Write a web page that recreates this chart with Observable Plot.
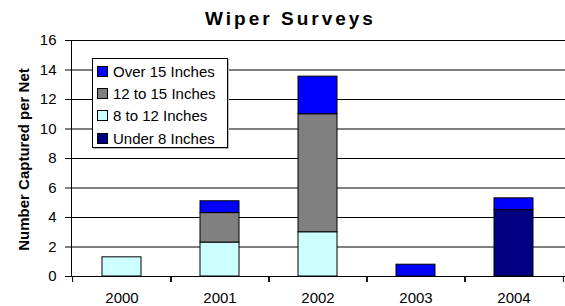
<!DOCTYPE html>
<html>
<head>
<meta charset="utf-8">
<script src="https://cdn.jsdelivr.net/npm/d3@7"></script>
<script src="https://cdn.jsdelivr.net/npm/@observablehq/plot@0.6"></script>
<style>
  html, body { margin: 0; padding: 0; background: #fff; }
  body { width: 565px; height: 306px; overflow: hidden; font-family: "Liberation Sans", Arial, sans-serif; }
  #wrap { position: relative; width: 565px; height: 306px; }
  #title { position: absolute; left: 0; top: 9px; width: 581px; text-align: center; font-size: 19px; line-height: 19px; font-weight: bold; letter-spacing: 3px; color: #000; }
  #legend { position: absolute; left: 92px; top: 58px; width: 134px; height: 88px; border: 1px solid #000; background: #fff; box-shadow: 1px 1px 0 #bbb; }
  .item { position: absolute; left: 4px; height: 16px; display: flex; align-items: center; font-size: 15px; color: #000; white-space: nowrap; }
  .sw { width: 9px; height: 9px; border: 1px solid #000; margin-right: 5px; flex: none; }
</style>
</head>
<body>
<div id="wrap">
  <div id="chart"></div>
  <div id="title">Wiper Surveys</div>
  <div id="legend"></div>
</div>
<script>
const years = ["2000", "2001", "2002", "2003", "2004"];
const seriesNames = ["Under 8 Inches", "8 to 12 Inches", "12 to 15 Inches", "Over 15 Inches"];
const seriesColors = ["#000080", "#CCFFFF", "#808080", "#0000FF"];
const under8 = [0, 0, 0, 0, 4.5];
const in8to12 = [1.3, 2.3, 3.0, 0, 0];
const in12to15 = [0, 2.0, 8.0, 0, 0];
const over15 = [0, 0.8, 2.55, 0.8, 0.8];
const yTicks = [0, 2, 4, 6, 8, 10, 12, 14, 16];
const yLabel = "Number Captured per Net";
const legendOrder = ["Over 15 Inches", "12 to 15 Inches", "8 to 12 Inches", "Under 8 Inches"];

const seriesValues = [under8, in8to12, in12to15, over15];
const data = [];
seriesNames.forEach((s, i) => {
  years.forEach((y, j) => {
    if (seriesValues[i][j] > 0) data.push({year: y, series: s, value: seriesValues[i][j]});
  });
});

const W = 565, H = 306, mL = 71, mR = 0, mT = 40, mB = 30;
const step = (W - mL - mR) / years.length;
const font = "'Liberation Sans', Arial, sans-serif";

const chart = Plot.plot({
  width: W,
  height: H,
  marginLeft: mL,
  marginRight: mR,
  marginTop: mT,
  marginBottom: mB,
  style: {fontFamily: font, color: "#000", background: "#fff", overflow: "visible"},
  x: {domain: years, paddingInner: 0.6, paddingOuter: 0.3, label: null},
  y: {domain: [0, 16], label: null},
  color: {domain: seriesNames, range: seriesColors},
  marks: [
    Plot.gridY(yTicks, {stroke: "#000", strokeOpacity: 1, strokeWidth: 1}),
    Plot.barY(data, {x: "year", y: "value", fill: "series", stroke: "#000", strokeWidth: 1, order: seriesNames}),
    Plot.ruleY([0], {stroke: "#000", strokeWidth: 1}),
    Plot.frame({anchor: "left", stroke: "#000", strokeWidth: 1}),
    Plot.axisY({ticks: yTicks, tickSize: 6, tickPadding: 9, fontSize: 15, label: null, tickFormat: d => String(d)}),
    Plot.axisX({tickSize: 6, tickFormat: () => "", dx: step / 2, label: null}),
    Plot.axisX({tickSize: 6, tickFormat: () => "", dx: -step / 2, label: null}),
    Plot.axisX({tickSize: 0, tickPadding: 15.5, fontSize: 15, label: null, style: {letterSpacing: "0.8px"}}),
    Plot.text([yLabel], {frameAnchor: "left", textAnchor: "middle", lineAnchor: "middle", rotate: -90, dx: -47, dy: 1, fontSize: 15, fontWeight: "bold", fill: "#000"})
  ]
});
document.getElementById("chart").appendChild(chart);

const legend = document.getElementById("legend");
const color = chart.scale("color");
const rowCenters = [12.5, 34.5, 56.5, 79];
legendOrder.forEach((s, i) => {
  const item = document.createElement("div");
  item.className = "item";
  item.style.top = (rowCenters[i] - 8) + "px";
  const sw = document.createElement("div");
  sw.className = "sw";
  sw.style.background = color.apply(s);
  const t = document.createElement("span");
  t.textContent = s;
  item.appendChild(sw);
  item.appendChild(t);
  legend.appendChild(item);
});
</script>
</body>
</html>
